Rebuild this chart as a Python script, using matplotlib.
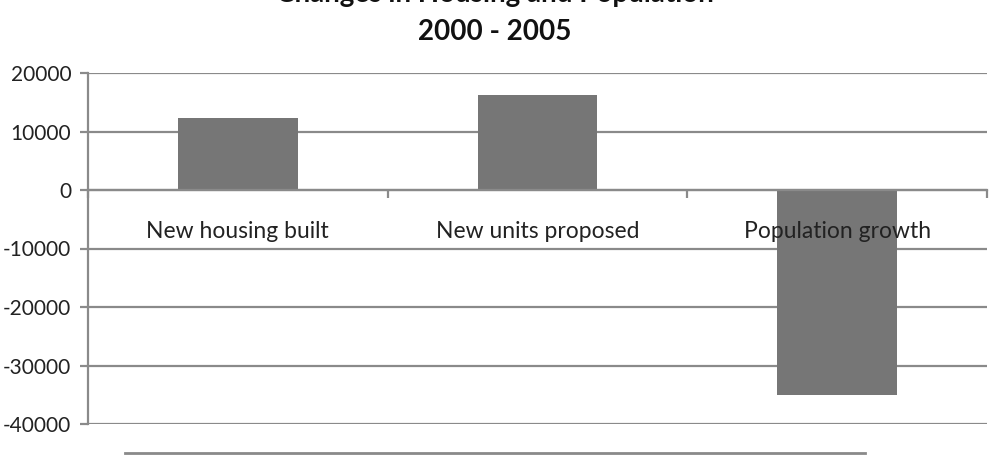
import matplotlib.pyplot as plt
from matplotlib.lines import Line2D

# data
categories = ["New housing built", "New units proposed", "Population growth"]
values = [12300, 16300, -35000]
yticks = [20000, 10000, 0, -10000, -20000, -30000, -40000]

plt.rcParams['font.family'] = ['Lato', 'DejaVu Sans']

fig = plt.figure(figsize=(9.9, 4.62), dpi=100)
ax = fig.add_axes([88 / 990, 1 - 424 / 462, 899 / 990, 351 / 462])

grid_c = '#8a8a8a'
bar_c = '#767676'

x = list(range(len(categories)))
ax.bar(x, values, width=0.4, color=bar_c, zorder=1)

ax.set_xlim(-0.5, len(categories) - 0.5)
ax.set_ylim(min(yticks), max(yticks))
ax.set_yticks(yticks)
ax.set_yticklabels([str(t) for t in yticks], fontsize=15, color='#222222')
ax.yaxis.grid(True, color=grid_c, lw=1.6)
ax.tick_params(axis='y', length=6, width=1.6, color=grid_c, pad=6)

# category axis sits on zero, boundary ticks pointing down
ax.spines['bottom'].set_position(('data', 0))
ax.spines['bottom'].set_color(grid_c)
ax.spines['bottom'].set_linewidth(1.6)
ax.set_xticks(x)
ax.set_xticklabels(categories, fontsize=16.5, color='#222222')
ax.set_xticks([i - 0.5 for i in range(len(categories) + 1)], minor=True)
ax.tick_params(axis='x', which='major', length=0, pad=22)
ax.tick_params(axis='x', which='minor', length=6, width=1.6, color=grid_c)

ax.spines['left'].set_color(grid_c)
ax.spines['left'].set_linewidth(1.6)
ax.spines['top'].set_visible(False)
ax.spines['right'].set_visible(False)

ax.yaxis.set_zorder(0.5)
ax.xaxis.set_zorder(3)

# title sits partly above the picture, as in the source
fig.text(0.5, 1 - 40 / 462, "Changes in Housing and Population\n2000 - 2005",
         ha='center', va='baseline', fontsize=20, fontweight='bold',
         color='#111111', linespacing=1.55)

# stray rule under the chart
fig.add_artist(Line2D([125 / 990, 865 / 990], [1 - 453 / 462, 1 - 453 / 462],
                      color=grid_c, lw=2))

fig.savefig('out.png', dpi=100)
